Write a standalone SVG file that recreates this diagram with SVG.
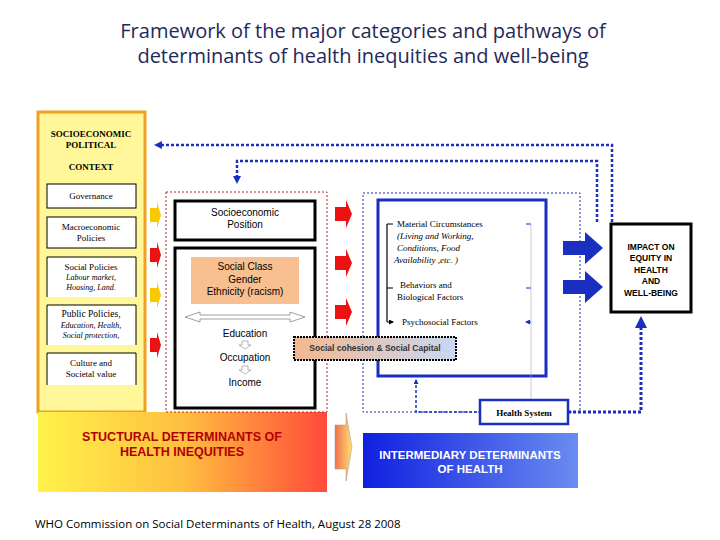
<svg xmlns="http://www.w3.org/2000/svg" width="720" height="540" viewBox="0 0 720 540">
<defs>
<linearGradient id="gStr" x1="0" y1="0" x2="1" y2="0"><stop offset="0" stop-color="#fff24a"/><stop offset="0.5" stop-color="#ffc040"/><stop offset="1" stop-color="#ff4a3a"/></linearGradient>
<linearGradient id="gInt" x1="0" y1="0" x2="1" y2="0"><stop offset="0" stop-color="#1020e0"/><stop offset="1" stop-color="#6a8cf0"/></linearGradient>
<linearGradient id="gSoc" x1="0" y1="0" x2="1" y2="0"><stop offset="0" stop-color="#f2b890"/><stop offset="1" stop-color="#c8d8f4"/></linearGradient>
<linearGradient id="gArr" x1="0" y1="0" x2="1" y2="0"><stop offset="0" stop-color="#f07050"/><stop offset="1" stop-color="#ffe070"/></linearGradient>
<marker id="ab" markerUnits="userSpaceOnUse" markerWidth="8" markerHeight="8" refX="4" refY="4" orient="auto"><path d="M0,0L8,4L0,8z" fill="#1a2fc0"/></marker>
<marker id="abL" markerUnits="userSpaceOnUse" markerWidth="12" markerHeight="12" refX="6" refY="6" orient="auto"><path d="M0,0L12,6L0,12z" fill="#1a2fc0"/></marker>
<marker id="abs" markerUnits="userSpaceOnUse" markerWidth="5" markerHeight="5" refX="4" refY="2.5" orient="auto"><path d="M0,0L5,2.5L0,5z" fill="#1a2fc0"/></marker>
<marker id="ak" markerUnits="userSpaceOnUse" markerWidth="5" markerHeight="5" refX="4" refY="2.5" orient="auto"><path d="M0,0L5,2.5L0,5z" fill="#000"/></marker>
</defs>
<style>
.t{font-family:"Open Sans","Liberation Sans",sans-serif;fill:#1f2a5a}
.s{font-family:"Liberation Sans",Arial,sans-serif}
.r{font-family:"Liberation Serif","Times New Roman",serif}
.dot{fill:none;stroke:#1a2fc0;stroke-dasharray:3 2}
</style>
<rect width="720" height="540" fill="#fff"/>
<text class="t" x="363" y="38" font-size="20" text-anchor="middle">Framework of the major categories and pathways of</text>
<text class="t" x="363" y="63" font-size="20" text-anchor="middle">determinants of health inequities and well-being</text>

<g id="context">
<rect x="38" y="112" width="107" height="300" fill="#fff79a" stroke="#f0a020" stroke-width="3"/>
<text class="r" x="91" y="137" font-size="9" font-weight="bold" text-anchor="middle">SOCIOECONOMIC</text>
<text class="r" x="91" y="148" font-size="9" font-weight="bold" text-anchor="middle">POLITICAL</text>
<text class="r" x="91" y="170" font-size="9" font-weight="bold" text-anchor="middle">CONTEXT</text>
<rect x="47" y="184" width="89" height="24" fill="#fff" stroke="#000"/>
<text class="r" x="91" y="199" font-size="9" text-anchor="middle">Governance</text>
<rect x="47" y="217" width="89" height="31" fill="#fff" stroke="#000"/>
<text class="r" x="91" y="230" font-size="9" text-anchor="middle">Macroeconomic</text>
<text class="r" x="91" y="241" font-size="9" text-anchor="middle">Policies</text>
<rect x="47" y="257" width="89" height="40" fill="#fff"/>
<path d="M47,257V297M136,257V297M47,257H136" stroke="#000" fill="none"/>
<text class="r" x="91" y="270" font-size="9" text-anchor="middle">Social Policies</text>
<text class="r" x="91" y="280" font-size="8" font-style="italic" text-anchor="middle">Labour market,</text>
<text class="r" x="91" y="290" font-size="8" font-style="italic" text-anchor="middle">Housing, Land.</text>
<rect x="47" y="305" width="89" height="40" fill="#fff"/>
<path d="M47,305V345M136,305V345M47,305H136" stroke="#000" fill="none"/>
<text class="r" x="91" y="317" font-size="9.5" text-anchor="middle">Public Policies,</text>
<text class="r" x="91" y="328" font-size="8" font-style="italic" text-anchor="middle">Education, Health,</text>
<text class="r" x="91" y="338" font-size="8" font-style="italic" text-anchor="middle">Social protection,</text>
<rect x="47" y="353" width="89" height="32" fill="#fff"/>
<path d="M47,385V353H136V385" stroke="#000" fill="none"/>
<text class="r" x="91" y="366" font-size="9" text-anchor="middle">Culture and</text>
<text class="r" x="91" y="377" font-size="9" text-anchor="middle">Societal value</text>
</g>

<g id="structural">
<rect x="38" y="412" width="289" height="80" fill="url(#gStr)"/>
<text class="s" x="182" y="441" font-size="12.5" font-weight="bold" fill="#b00000" text-anchor="middle">STUCTURAL DETERMINANTS OF</text>
<text class="s" x="182" y="456" font-size="12.5" font-weight="bold" fill="#b00000" text-anchor="middle">HEALTH INEQUITIES</text>
<rect x="166" y="192" width="161" height="220" fill="none" stroke="#c02020" stroke-dasharray="2 2"/>
</g>
<g id="sep">
<rect x="175" y="201" width="140" height="39" fill="#fff" stroke="#000" stroke-width="3"/>
<text class="s" x="245" y="216" font-size="10" text-anchor="middle">Socioeconomic</text>
<text class="s" x="245" y="228" font-size="10" text-anchor="middle">Position</text>
</g>
<g id="class">
<rect x="175" y="248" width="140" height="160" fill="#fff" stroke="#000" stroke-width="3"/>
<rect x="191" y="257" width="108" height="47" fill="#f8c090"/>
<text class="s" x="245" y="270" font-size="10" text-anchor="middle">Social Class</text>
<text class="s" x="245" y="283" font-size="10" text-anchor="middle">Gender</text>
<text class="s" x="245" y="295" font-size="10" text-anchor="middle">Ethnicity (racism)</text>
<path d="M185,317L200,312V315H290V312L305,317L290,322V319H200V322Z" fill="#fff" stroke="#888" stroke-width="0.8"/>
<text class="s" x="245" y="337" font-size="10" text-anchor="middle">Education</text>
<path d="M242,341H248V345H251L245,349L239,345H242Z" fill="#fff" stroke="#888" stroke-width="0.6"/>
<text class="s" x="245" y="361" font-size="10" text-anchor="middle">Occupation</text>
<path d="M242,366H248V370H251L245,374L239,370H242Z" fill="#fff" stroke="#888" stroke-width="0.6"/>
<text class="s" x="245" y="386" font-size="10" text-anchor="middle">Income</text>
</g>

<g id="intermediary">
<rect x="363" y="193" width="217" height="219" fill="none" stroke="#1a2fc0" stroke-dasharray="2 2"/>
<rect x="378" y="200" width="168" height="176" fill="#fff" stroke="#1a2fc0" stroke-width="3"/>
<path d="M387,224V322" stroke="#000" stroke-width="1.2"/>
<path d="M387,224H393M387,288H393M387,322H393" stroke="#000" marker-end="url(#ak)"/>
<text class="r" x="397" y="227" font-size="9">Material Circumstances</text>
<text class="r" x="397" y="239" font-size="9" font-style="italic">(Living and Working,</text>
<text class="r" x="397" y="251" font-size="9" font-style="italic">Conditions, Food</text>
<text class="r" x="394" y="263" font-size="9" font-style="italic">Availability ,etc. )</text>
<text class="r" x="400" y="288" font-size="9">Behaviors and</text>
<text class="r" x="397" y="300" font-size="9">Biological Factors</text>
<text class="r" x="402" y="325" font-size="9">Psychosocial Factors</text>
<path d="M531,224V400" stroke="#aab" stroke-width="0.6"/>
<path d="M531,224H526M531,288H526M531,322H526" stroke="#1a2fc0" marker-end="url(#abs)"/>
<rect x="363" y="433" width="215" height="55" fill="url(#gInt)"/>
<text class="s" x="470" y="459" font-size="11.5" font-weight="bold" fill="#fff" text-anchor="middle">INTERMEDIARY DETERMINANTS</text>
<text class="s" x="470" y="473" font-size="11.5" font-weight="bold" fill="#fff" text-anchor="middle">OF HEALTH</text>
</g>
<g id="cohesion">
<rect x="294" y="337" width="162" height="23" fill="url(#gSoc)" stroke="#000" stroke-width="2" stroke-dasharray="2 1"/>
<text class="s" x="375" y="351" font-size="8.5" font-weight="bold" fill="#333" text-anchor="middle">Social cohesion &amp;  Social Capital</text>
</g>
<g id="health-system">
<rect x="480" y="400" width="88" height="24" fill="#fff" stroke="#1a2fc0" stroke-width="2.5"/>
<text class="r" x="524" y="416" font-size="9" font-weight="bold" text-anchor="middle">Health System</text>
</g>
<g id="impact">
<rect x="611" y="224" width="80" height="88" fill="#fff" stroke="#000" stroke-width="3"/>
<text class="s" x="651" y="250" font-size="8.5" font-weight="bold" text-anchor="middle">IMPACT  ON</text>
<text class="s" x="651" y="261" font-size="8.5" font-weight="bold" text-anchor="middle">EQUITY IN</text>
<text class="s" x="651" y="273" font-size="8.5" font-weight="bold" text-anchor="middle">HEALTH</text>
<text class="s" x="651" y="284" font-size="8.5" font-weight="bold" text-anchor="middle">AND</text>
<text class="s" x="651" y="296" font-size="8.5" font-weight="bold" text-anchor="middle">WELL-BEING</text>
</g>

<g id="connectors">
<path class="dot" stroke-width="2.5" d="M612,222V145H158" marker-end="url(#ab)"/>
<path class="dot" stroke-width="2.5" d="M597,222V161H237V180" marker-end="url(#ab)"/>
<path class="dot" stroke-width="3" d="M568,412H641V322" marker-end="url(#abL)"/>
<path class="dot" stroke-width="1.5" d="M477,412H416V380" marker-end="url(#abs)"/>
<path d="M563,241H585V232L603,248L585,264V255H563Z" fill="#1a2fc0"/>
<path d="M563,280H585V271L603,287L585,303V294H563Z" fill="#1a2fc0"/>
<path d="M335,207H346V200L352,214L346,228V221H335Z" fill="#ee1111"/>
<path d="M335,256H346V249L352,263L346,277V270H335Z" fill="#ee1111"/>
<path d="M335,305H346V298L352,312L346,326V319H335Z" fill="#ee1111"/>
<path d="M335,425H346V413L352,447L346,481V469H335Z" fill="url(#gArr)" stroke="#999" stroke-width="0.5"/>
<path d="M150,208H157V202L161,215L157,228V222H150Z" fill="#f8c800"/>
<path d="M150,248H157V242L161,255L157,268V262H150Z" fill="#ee1111"/>
<path d="M150,288H157V282L161,295L157,308V302H150Z" fill="#f8c800"/>
<path d="M150,338H157V332L161,345L157,358V352H150Z" fill="#ee1111"/>
</g>
<text x="35" y="528" font-family="'Open Sans','Liberation Sans',sans-serif" font-size="11.5">WHO Commission on Social Determinants of Health, August 28 2008</text>
</svg>
